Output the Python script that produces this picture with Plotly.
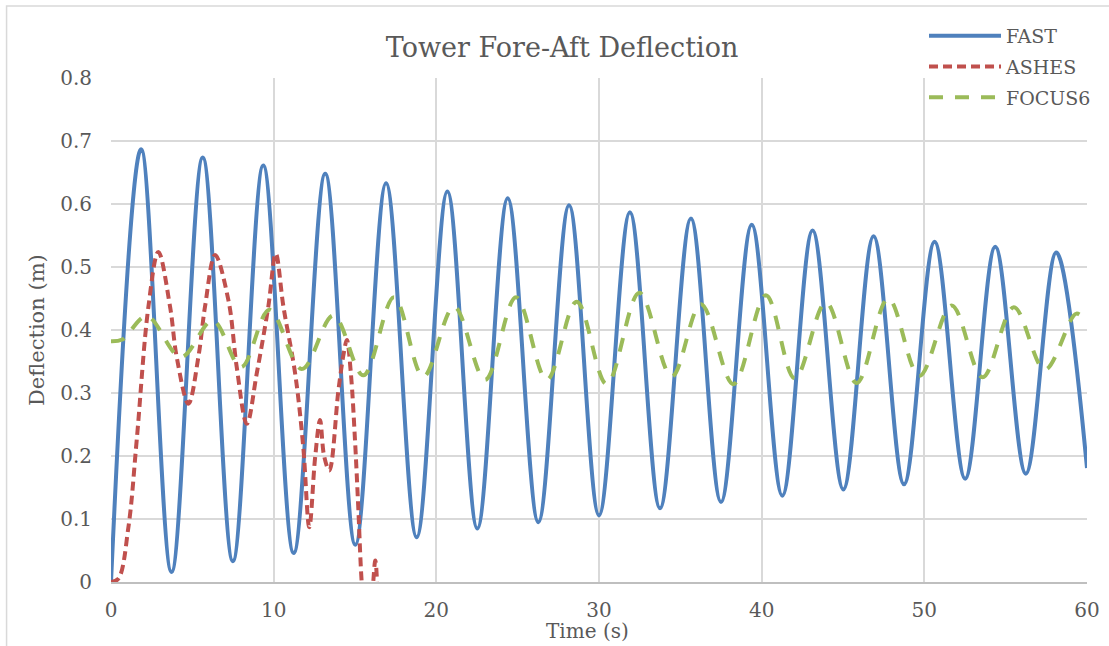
import plotly.graph_objects as go

# ---- Tower fore-aft deflection time histories (time in s, deflection in m) ----
# FAST: turning points of the lightly damped tower oscillation
fast_t = [0.0, 1.85, 3.72, 5.64, 7.49, 9.36, 11.23, 13.17, 15.02, 16.91, 18.79,
          20.68, 22.52, 24.39, 26.27, 28.16, 30.00, 31.90, 33.75, 35.65, 37.50,
          39.39, 41.27, 43.13, 45.02, 46.88, 48.75, 50.63, 52.51, 54.36, 56.24,
          58.11, 60.0]
fast_d = [0.0, 0.687, 0.016, 0.674, 0.033, 0.661, 0.046, 0.648, 0.059, 0.633, 0.071,
          0.620, 0.085, 0.609, 0.095, 0.598, 0.106, 0.587, 0.117, 0.577, 0.127,
          0.567, 0.137, 0.558, 0.147, 0.549, 0.155, 0.540, 0.164, 0.532, 0.172,
          0.523, 0.181]

# ASHES: short run that ends around 16 s
ashes_t = [0.0, 0.45, 1.07, 1.58, 2.30, 2.91, 3.63, 4.04, 4.76, 5.37, 5.78, 6.40,
           7.22, 7.73, 8.35, 8.96, 9.67, 10.13, 10.60, 11.32, 11.82, 12.19, 12.55,
           12.85, 13.10, 13.42, 13.98, 14.30, 14.50, 14.75, 15.00, 15.20, 15.41,
           15.70, 16.00, 16.25, 16.42]
ashes_d = [0.0, 0.005, 0.087, 0.225, 0.437, 0.524, 0.437, 0.357, 0.283, 0.357, 0.437, 0.519,
           0.447, 0.341, 0.251, 0.331, 0.437, 0.521, 0.437, 0.331, 0.214, 0.087, 0.198,
           0.257, 0.200, 0.177, 0.304, 0.362, 0.384, 0.330, 0.225, 0.119, 0.0,
           -0.09, -0.04, 0.034, -0.05]

# FOCUS6: turning points of the smaller-amplitude response
focus_t = [0.0, 0.7, 2.2, 4.3, 6.25, 8.0, 9.74, 11.73, 13.67, 15.51, 17.4, 19.2,
           21.09, 23.0, 24.9, 26.79, 28.63, 30.47, 32.48, 34.47, 36.27, 38.26,
           40.26, 42.04, 43.95, 45.84, 47.78, 49.69, 51.68, 53.58, 55.5, 57.41,
           59.35, 60.0]
focus_d = [0.382, 0.385, 0.422, 0.357, 0.415, 0.341, 0.432, 0.338, 0.423, 0.328, 0.452, 0.326,
           0.437, 0.321, 0.452, 0.321, 0.445, 0.314, 0.459, 0.326, 0.441, 0.314,
           0.455, 0.323, 0.444, 0.316, 0.450, 0.327, 0.439, 0.325, 0.436, 0.337,
           0.426, 0.410]

x_ticks = [0, 10, 20, 30, 40, 50, 60]
y_ticks = [0, 0.1, 0.2, 0.3, 0.4, 0.5, 0.6, 0.7, 0.8]
y_labels = ["0", "0.1", "0.2", "0.3", "0.4", "0.5", "0.6", "0.7", "0.8"]

FONT = "DejaVu Serif"
TEXT = "#595959"
GRID = "#D9D9D9"

fig = go.Figure()
fig.add_trace(go.Scatter(x=fast_t, y=fast_d, name="FAST", mode="lines", legendgroup="a",
                         line=dict(color="#4F81BD", width=4, shape="spline", smoothing=1)))
fig.add_trace(go.Scatter(x=ashes_t, y=ashes_d, name="ASHES", mode="lines", legendgroup="b",
                         line=dict(color="#C0504D", width=4, shape="spline", smoothing=1,
                                   dash="9px,5px")))
fig.add_trace(go.Scatter(x=focus_t, y=focus_d, name="FOCUS6", mode="lines", legendgroup="c",
                         line=dict(color="#9BBB59", width=4, shape="spline", smoothing=1,
                                   dash="14px,12px")))

fig.update_layout(
    width=1109, height=646,
    margin=dict(l=111, r=22, t=78, b=64, autoexpand=False),
    paper_bgcolor="white", plot_bgcolor="white",
    font=dict(family=FONT, color=TEXT, size=20),
    title=dict(text="Tower Fore-Aft Deflection", xref="container", x=0.5068,
               y=0.927, xanchor="center", yanchor="middle",
               font=dict(family=FONT, size=27, color=TEXT)),
    legend=dict(x=0.833, y=1.121, xanchor="left", yanchor="top",
                font=dict(family=FONT, size=19, color=TEXT),
                bgcolor="rgba(0,0,0,0)", itemwidth=72, tracegroupgap=3),
    showlegend=True,
    xaxis=dict(range=[0, 60], tickvals=x_ticks, ticktext=[str(v) for v in x_ticks],
               showgrid=True, gridcolor=GRID, gridwidth=1.5, zeroline=False,
               showline=True, linecolor="#BFBFBF", linewidth=1.5, ticks="",
               ticklabelstandoff=9, tickfont=dict(family=FONT, size=20, color=TEXT)),
    yaxis=dict(range=[0, 0.8], tickvals=y_ticks, ticktext=y_labels,
               showgrid=True, gridcolor=GRID, gridwidth=1.5, zeroline=False,
               showline=False, ticks="", ticklabelstandoff=18,
               tickfont=dict(family=FONT, size=20, color=TEXT)),
    annotations=[
        dict(text="Time (s)", xref="paper", yref="paper", x=0.4887, y=-0.0972,
             xanchor="center", yanchor="middle", showarrow=False,
             font=dict(family=FONT, size=20, color=TEXT)),
        dict(text="Deflection (m)", xref="paper", yref="paper", x=-0.0758, y=0.5,
             xanchor="center", yanchor="middle", showarrow=False, textangle=-90,
             font=dict(family=FONT, size=21, color=TEXT)),
    ],
    shapes=[
        # light frame around the whole chart area
        dict(type="rect", xref="paper", yref="paper",
             x0=-0.107, x1=1.05, y0=-0.15, y1=1.143,
             line=dict(color=GRID, width=1.5), fillcolor="rgba(0,0,0,0)", layer="below"),
    ],
)

fig.write_html("out.html")
